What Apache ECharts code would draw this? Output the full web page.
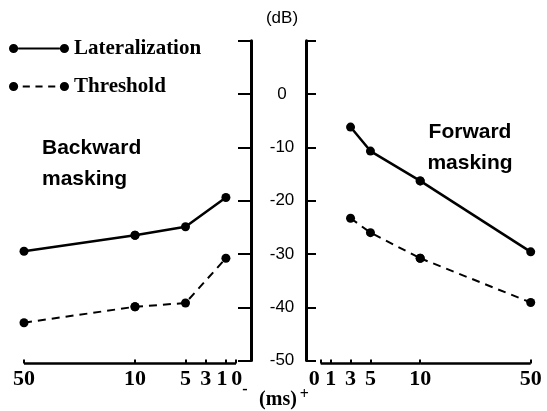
<!DOCTYPE html>
<html><head><meta charset="utf-8">
<script src="https://cdn.jsdelivr.net/npm/echarts@6/dist/echarts.min.js"></script>
<style>html,body{margin:0;padding:0;background:#fff}#c{width:547px;height:411px}</style>
</head><body><div id="c"></div>
<script>
// ---- data ----
const backwardDelays = [50, 10, 5, 1];
const backwardLateralization = [-29.5, -26.5, -24.9, -19.4];
const backwardThreshold = [-42.9, -39.9, -39.2, -30.8];
const forwardDelays = [3, 5, 10, 50];
const forwardLateralization = [-6.2, -10.7, -16.3, -29.6];
const forwardThreshold = [-23.3, -26.0, -30.8, -39.1];
// tick labels of the expanded 0-10 ms part (listed so that the crowded 0 and 1
// are not first/second in the list, which would make ECharts drop one of them)
const nearDelayTicks = [1, 3, 5, 0, 10];
const farDelayTicks = [50];                // compressed 10-50 ms part
const dbTicks = [-50, -40, -30, -20, -10, 0, 10];
const dbLabels = [-50, -40, -30, -20, -10, 0];
const seriesNames = ['Lateralization', 'Threshold'];

const BREAK = 10; // delay where the time axis changes its scale
const pairs = (xs, ys) => xs.map((x, i) => [x, ys[i]]);
const nearPart = (xs, ys) => pairs(xs, ys).filter(p => p[0] <= BREAK);
const farPart = (xs, ys) => pairs(xs, ys).filter(p => p[0] >= BREAK);

const serif = '"Liberation Serif", "Times New Roman", serif';
const sans = '"Liberation Sans", Arial, sans-serif';
const clear = 'rgba(0,0,0,0)';

function tok(size, extra) {
  return Object.assign({ fontFamily: serif, fontWeight: 'bold', fontSize: size, color: '#000' }, extra || {});
}

function xAxisOpt(gridIndex, min, max, inverse, ticks, side) {
  return {
    type: 'value', gridIndex: gridIndex, min: min, max: max, inverse: inverse,
    offset: 3,
    axisLine: { show: true, onZero: false, lineStyle: { color: '#000', width: 2.5, cap: 'butt' } },
    axisTick: { show: true, inside: true, length: 4, customValues: ticks, lineStyle: { color: '#000', width: 2 } },
    axisLabel: {
      customValues: ticks, margin: 5, color: '#000', showMinLabel: true, showMaxLabel: true,
      hideOverlap: false,
      fontFamily: serif, fontWeight: 'bold', fontSize: 22,
      formatter: function (v) {
        if (side === 'left') {
          if (v === 0) return '{g7|0}{nm|0}{m|-}';
          if (v === 1) return '{n|1}{g8|0}';
        } else {
          if (v === 0) return '{p|+}{np|0}{g22|00}';
        }
        return String(v);
      },
      rich: {
        n: tok(22),
        nm: tok(22, { padding: [0, 0, 7, 0] }),
        np: tok(22, { padding: [0, 0, 12, 0] }),
        m: tok(16, { padding: [13, 0, 0, 0] }),
        p: tok(16, { padding: [18, 0, 0, 0] }),
        g7: tok(14, { color: clear }),
        g8: tok(16, { color: clear }),
        g22: tok(22, { color: clear })
      }
    },
    splitLine: { show: false }
  };
}

function yAxisOpt(gridIndex, visible, position, offset, tickLen, labels) {
  return {
    type: 'value', gridIndex: gridIndex, min: -50, max: 10, show: visible,
    position: position, offset: offset,
    axisLine: { show: true, onZero: false, lineStyle: { color: '#000', width: 3 } },
    axisTick: { show: true, inside: true, length: tickLen, customValues: dbTicks, lineStyle: { color: '#000', width: 2 } },
    axisLabel: labels
      ? { show: true, customValues: dbLabels, hideOverlap: false, align: 'center', margin: 31, color: '#000', fontFamily: sans, fontSize: 17 }
      : { show: false },
    splitLine: { show: false }
  };
}

const solidIcon = 'path://M0.5,5a4.5,4.5 0 1,0 9,0a4.5,4.5 0 1,0 -9,0Z M9.5,4H50.5V6H9.5Z M50.5,5a4.5,4.5 0 1,0 9,0a4.5,4.5 0 1,0 -9,0Z';
const dashIcon = 'path://M0.5,5a4.5,4.5 0 1,0 9,0a4.5,4.5 0 1,0 -9,0Z M14,4H21V6H14Z M26.5,4H33.5V6H26.5Z M39,4H46V6H39Z M50.5,5a4.5,4.5 0 1,0 9,0a4.5,4.5 0 1,0 -9,0Z';

function lineSeries(name, axisIdx, data, dashed) {
  return {
    name: name, type: 'line', xAxisIndex: axisIdx, yAxisIndex: axisIdx,
    data: data, symbol: 'circle', symbolSize: 9, showSymbol: true, clip: false,
    itemStyle: { color: '#000' },
    lineStyle: dashed ? { color: '#000', width: 2, type: [8, 6] } : { color: '#000', width: 2.5 },
    emphasis: { disabled: true }
  };
}

const gTop = 40.7, gH = 319.9;
const option = {
  animation: false,
  backgroundColor: '#fff',
  grid: [
    { left: 24, width: 111, top: gTop, height: gH },      // backward, 50..10 ms
    { left: 135, width: 101, top: gTop, height: gH },     // backward, 10..0 ms
    { left: 320.7, width: 99.5, top: gTop, height: gH },  // forward, 0..10 ms
    { left: 420.2, width: 110.5, top: gTop, height: gH }  // forward, 10..50 ms
  ],
  legend: {
    orient: 'vertical', left: 4, top: 33, itemWidth: 60, itemHeight: 10, itemGap: 17,
    selectedMode: false,
    itemStyle: { borderWidth: 0 },
    textStyle: { fontFamily: serif, fontWeight: 'bold', fontSize: 21, color: '#000' },
    data: [{ name: seriesNames[0], icon: solidIcon }, { name: seriesNames[1], icon: dashIcon }]
  },
  xAxis: [
    xAxisOpt(0, BREAK, 50, true, farDelayTicks, 'left'),
    xAxisOpt(1, 0, BREAK, true, nearDelayTicks, 'left'),
    xAxisOpt(2, 0, BREAK, false, nearDelayTicks, 'right'),
    xAxisOpt(3, BREAK, 50, false, farDelayTicks, 'right')
  ],
  yAxis: [
    yAxisOpt(0, false, 'right', 0, 13, false),
    yAxisOpt(1, true, 'right', 15, 13, true),
    yAxisOpt(2, true, 'left', 14.7, 10, false),
    yAxisOpt(3, false, 'left', 0, 10, false)
  ],
  graphic: [
    { type: 'text', x: 282, y: 18, style: { text: '(dB)', font: '17px ' + sans, align: 'center', verticalAlign: 'middle', fill: '#000' } },
    { type: 'text', x: 42, y: 133, style: { text: 'Backward\nmasking', font: 'bold 21px ' + sans, lineHeight: 31, align: 'left', verticalAlign: 'top', fill: '#000' } },
    { type: 'text', x: 470, y: 117, style: { text: 'Forward\nmasking', font: 'bold 21px ' + sans, lineHeight: 31, align: 'center', verticalAlign: 'top', fill: '#000' } },
    { type: 'text', x: 278, y: 400, style: { text: '(ms)', font: 'bold 20px ' + serif, align: 'center', verticalAlign: 'middle', fill: '#000' } }
  ],
  series: [
    lineSeries(seriesNames[0], 0, farPart(backwardDelays, backwardLateralization), false),
    lineSeries(seriesNames[0], 1, nearPart(backwardDelays, backwardLateralization), false),
    lineSeries(seriesNames[1], 0, farPart(backwardDelays, backwardThreshold), true),
    lineSeries(seriesNames[1], 1, nearPart(backwardDelays, backwardThreshold), true),
    lineSeries(seriesNames[0], 2, nearPart(forwardDelays, forwardLateralization), false),
    lineSeries(seriesNames[0], 3, farPart(forwardDelays, forwardLateralization), false),
    lineSeries(seriesNames[1], 2, nearPart(forwardDelays, forwardThreshold), true),
    lineSeries(seriesNames[1], 3, farPart(forwardDelays, forwardThreshold), true)
  ]
};

const chart = echarts.init(document.getElementById('c'), null, { renderer: 'canvas' });
chart.setOption(option);
</script>
</body></html>
